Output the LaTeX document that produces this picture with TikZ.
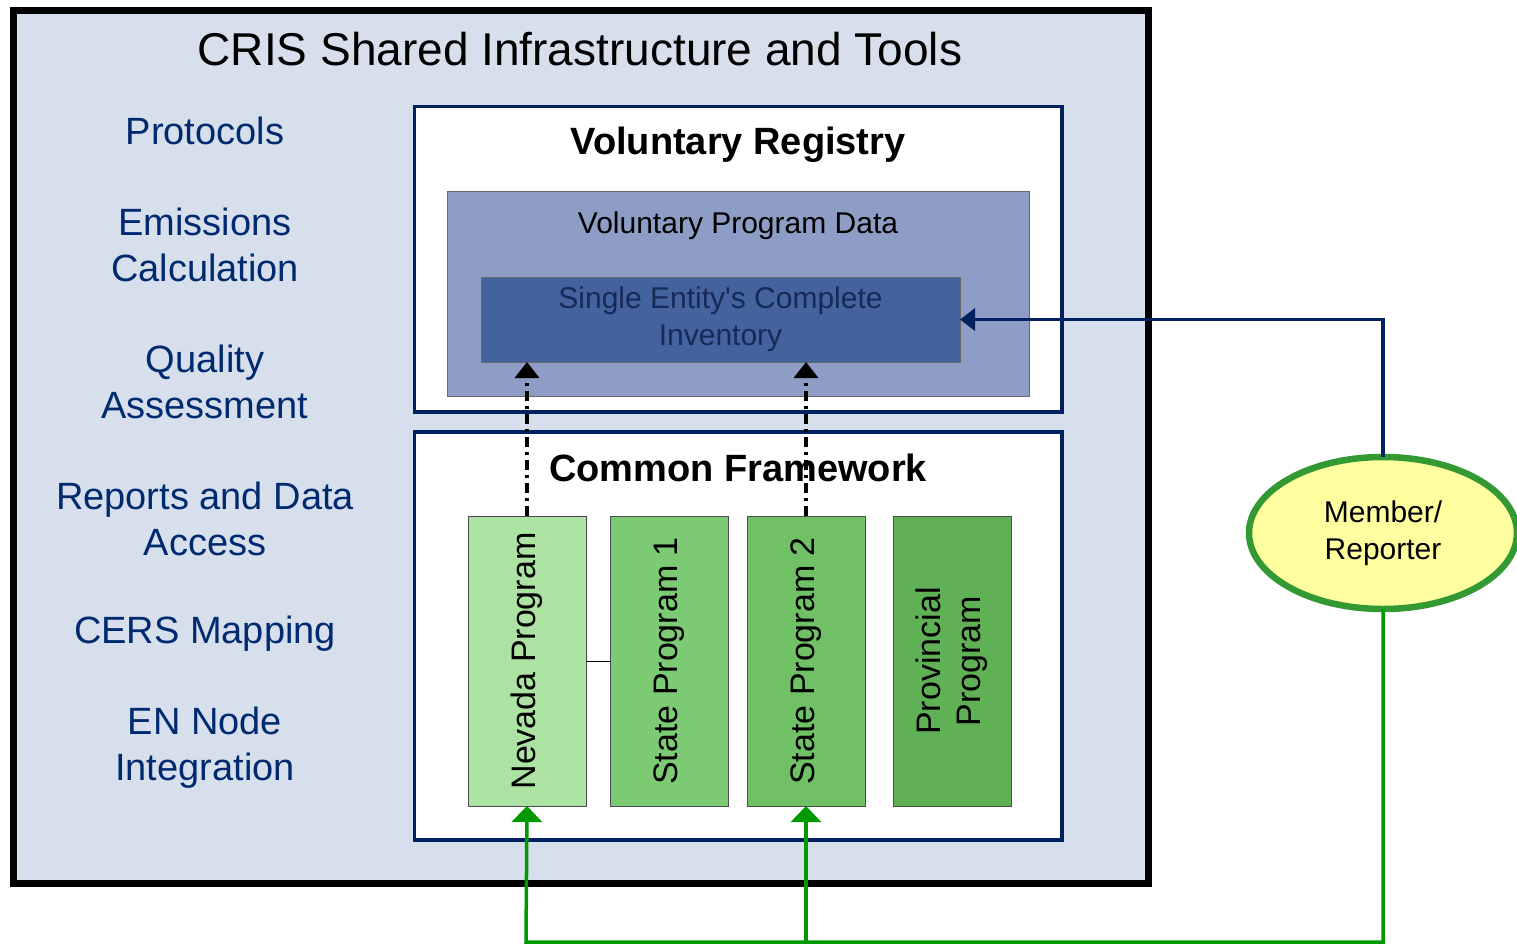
\documentclass[tikz,border=0pt]{standalone}
\usepackage{fontspec}
\setmainfont{Liberation Sans}[Ligatures=TeXOff]
\usetikzlibrary{arrows.meta,shapes.geometric}

\definecolor{outerfill}{RGB}{216,223,236}
\definecolor{vpdfill}{RGB}{142,157,197}
\definecolor{sefill}{RGB}{68,98,158}
\definecolor{setext}{RGB}{22,42,88}
\definecolor{navyline}{RGB}{0,32,96}
\definecolor{labelblue}{RGB}{0,42,112}
\definecolor{nvfill}{RGB}{172,226,162}
\definecolor{sonefill}{RGB}{124,202,116}
\definecolor{stwofill}{RGB}{112,192,102}
\definecolor{provfill}{RGB}{96,176,86}
\definecolor{mrfill}{RGB}{255,255,160}
\definecolor{mrborder}{RGB}{51,153,51}
\definecolor{greenline}{RGB}{0,153,0}

\newcommand{\fs}[2]{\fontsize{#1}{#2}\selectfont}

\begin{document}
\begin{tikzpicture}[x=1pt,y=-1pt,inner sep=0pt,outer sep=0pt]
  \tikzstyle{box}=[draw,rectangle]
  \tikzstyle{program}=[box,draw=black!70,line width=1pt,minimum width=118pt,minimum height=290pt]
  \tikzstyle{progtext}=[rotate=90,align=center,font=\fs{34pt}{40pt}]
  \tikzstyle{sidelabel}=[align=center,text=labelblue,font=\fs{38pt}{46pt}]
  \tikzstyle{navyarrow}=[draw=navyline,line width=3.5pt,-{Triangle[width=22pt,length=15pt]}]
  \tikzstyle{greenarrow}=[draw=greenline,line width=3.5pt,-{Triangle[width=30pt,length=16pt]}]
  \tikzstyle{dasharrow}=[draw=black,line width=3.5pt,dash pattern=on 10pt off 5pt on 3pt off 5pt,
                         -{Triangle[width=24pt,length=16pt]}]

  \useasboundingbox (0,0) rectangle (1517,945);

  % outer frame
  \node[box,fill=outerfill,line width=7pt,minimum width=1135pt,minimum height=873pt]
        (outer) at (580.5,446.5) {};
  \node[font=\fs{46pt}{52pt}] (title) at (580,49) {CRIS Shared Infrastructure and Tools};

  % side labels
  \node[sidelabel] (proto) at (205,131) {Protocols};
  \node[sidelabel] (emis)  at (205,245) {Emissions\\Calculation};
  \node[sidelabel] (qual)  at (205,382) {Quality\\Assessment};
  \node[sidelabel] (rep)   at (205,519) {Reports and Data\\Access};
  \node[sidelabel] (cers)  at (205,634) {CERS Mapping};
  \node[sidelabel] (en)    at (205,748) {EN Node\\Integration};

  % voluntary registry
  \node[box,fill=white,draw=navyline,line width=3.5pt,minimum width=647.5pt,minimum height=305.5pt]
        (vr) at (738.25,259.25) {};
  \node[font=\bfseries\fs{38pt}{44pt}] (vrtitle) at (738,145) {Voluntary Registry};
  \node[box,fill=vpdfill,draw=black!60,line width=1pt,minimum width=582pt,minimum height=205pt]
        (vpd) at (738,293.5) {};
  \node[font=\fs{30pt}{36pt}] (vpdtitle) at (738,226) {Voluntary Program Data};
  \node[box,fill=sefill,draw=black!60,line width=1pt,minimum width=479pt,minimum height=85pt,
        align=center,text=setext,font=\fs{30pt}{37pt}]
        (se) at (720.5,319.5) {Single Entity's Complete\\Inventory};

  % common framework
  \node[box,fill=white,draw=navyline,line width=3.5pt,minimum width=647.5pt,minimum height=408pt]
        (cf) at (738.25,636) {};
  \node[font=\bfseries\fs{38pt}{44pt}] (cftitle) at (738,468) {Common Framework};

  \node[program,fill=nvfill]   (nv)   at (527,661)   {};
  \node[program,fill=sonefill] (sone) at (669.5,661) {};
  \node[program,fill=stwofill] (stwo) at (806,661)   {};
  \node[program,fill=provfill] (prov) at (952,661)   {};
  \node[progtext] at (nv)   {Nevada Program};
  \node[progtext] at (sone) {State Program 1};
  \node[progtext] at (stwo) {State Program 2};
  \node[progtext] at (prov) {Provincial\\Program};
  \draw[black,line width=1pt] (nv.east) -- (sone.west);

  % member / reporter
  \node[ellipse,fill=mrfill,draw=mrborder,line width=6.5pt,minimum width=268pt,minimum height=152pt,
        align=center,font=\fs{30pt}{37pt}] (mr) at (1383,533) {Member/\\Reporter};
  \coordinate (gb) at (526,942);

  \path[dasharrow] (nv.north) -- (nv.north |- se.south);
  \path[dasharrow] (stwo.north) -- (stwo.north |- se.south);
  \path[navyarrow] (mr.north) |- (se.east);
  \path[greenarrow] (mr.south) |- (gb) -- (nv.south);
  \path[greenarrow] (stwo.south |- gb) -- (stwo.south);
\end{tikzpicture}
\end{document}
